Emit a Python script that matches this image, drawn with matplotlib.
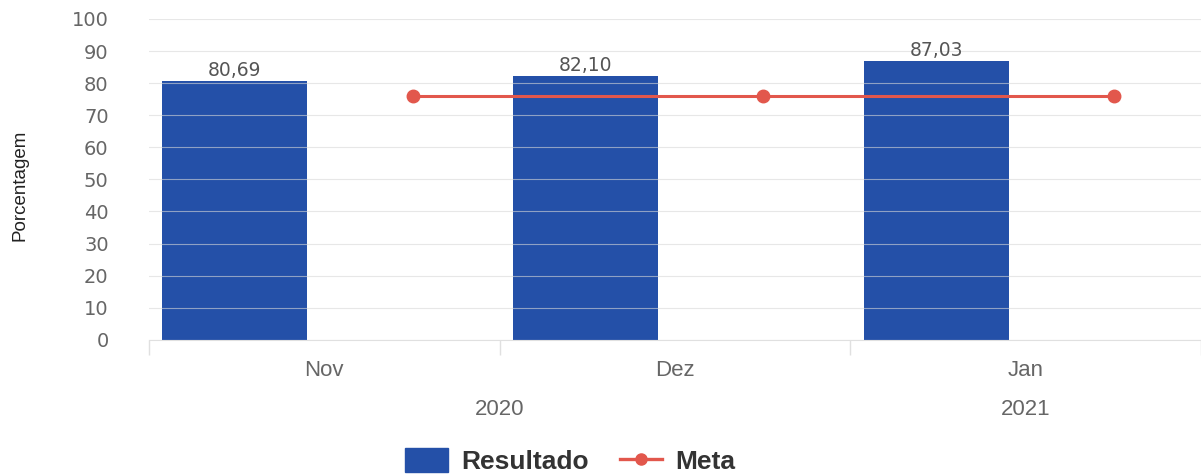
import matplotlib
matplotlib.use("Agg")
import matplotlib.pyplot as plt
from matplotlib.lines import Line2D
from matplotlib.patches import Patch
import numpy as np

# data
months = ["Nov", "Dez", "Jan"]
years = ["2020", "2021"]
year_span = [(0, 1), (2, 2)]  # first and last month index of each year
resultado = [80.69, 82.10, 87.03]
resultado_labels = ["80,69", "82,10", "87,03"]
meta = [76, 76, 76]

BAR_COLOR = "#2450a8"
META_COLOR = "#e2574c"
TICK_GRAY = "#666666"
NARROW = ["Liberation Sans Narrow", "Liberation Sans", "DejaVu Sans"]
WIDE = ["DejaVu Sans"]

plt.rcParams['font.family'] = ["Liberation Sans", "DejaVu Sans"]

fig = plt.figure(figsize=(12.01, 4.74), dpi=100)
ax = fig.add_axes([0.124, 0.283, 0.876, 0.677])

x = np.arange(len(months))
bar_off = -0.255
meta_off = 0.252

ax.bar(x + bar_off, resultado, width=0.413, color=BAR_COLOR, zorder=2)
for xi, v, lab in zip(x, resultado, resultado_labels):
    ax.text(xi + bar_off, v + 0.3, lab, ha="center", va="bottom",
            fontsize=13.5, color="#555555", family=WIDE, zorder=4)

ax.plot(x + meta_off, meta, color=META_COLOR, lw=2.2, marker="o",
        markersize=9, zorder=5)

ax.set_xlim(-0.5, len(months) - 0.5)
ax.set_ylim(0, 100)
ax.set_yticks(np.arange(0, 101, 10))
ax.tick_params(axis="y", length=0, labelsize=14, labelcolor=TICK_GRAY, pad=29)
for t in ax.get_yticklabels():
    t.set_family(WIDE)
ax.grid(axis="y", color="#d8d8d8", lw=0.8, alpha=0.6, zorder=3)
ax.set_axisbelow(False)

# category axis: ticks at band edges, labels at band centres
ax.set_xticks(np.arange(-0.5, len(months) + 0.5, 1.0))
ax.set_xticklabels([])
ax.tick_params(axis="x", length=11, color="#e0e0e0", width=1)
for xi, m in zip(x, months):
    ax.text(xi, -6.3, m, ha="center", va="top", fontsize=16,
            color=TICK_GRAY, family=NARROW, clip_on=False)
for (a, b), yr in zip(year_span, years):
    ax.text((a + b) / 2.0, -18.3, yr, ha="center", va="top", fontsize=16,
            color=TICK_GRAY, family=NARROW, clip_on=False)

for s in ["top", "right", "left"]:
    ax.spines[s].set_visible(False)
ax.spines["bottom"].set_color("#e0e0e0")

fig.text(0.017, 0.61, "Porcentagem", rotation=90, ha="center", va="center",
         fontsize=13.5, color="#222222", family=NARROW)

handles = [Patch(facecolor=BAR_COLOR, edgecolor=BAR_COLOR),
           Line2D([0], [0], color=META_COLOR, lw=2.4, marker="o", markersize=8)]
leg = fig.legend(handles, ["Resultado", "Meta"], loc="center",
                 bbox_to_anchor=(0.475, 0.027), ncol=2, frameon=False,
                 prop={"family": NARROW, "weight": "bold", "size": 19},
                 handlelength=1.6, handleheight=1.0, columnspacing=1.2,
                 handletextpad=0.5, borderpad=0.1)
for t in leg.get_texts():
    t.set_color("#333333")

fig.savefig("out.png", dpi=100)
